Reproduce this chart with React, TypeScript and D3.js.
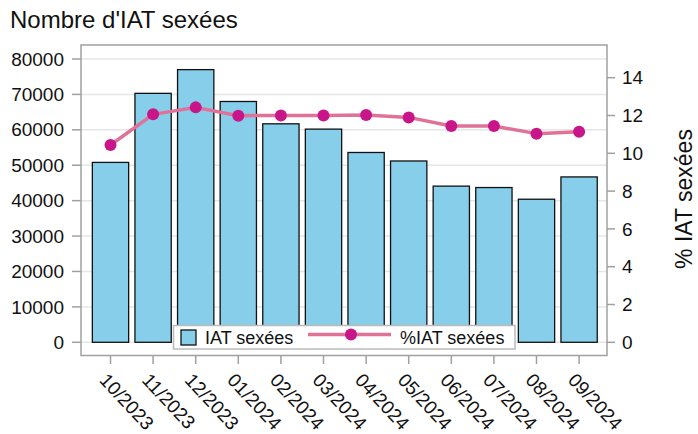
import React from "react";
import * as d3 from "d3";

const categories = ["10/2023","11/2023","12/2023","01/2024","02/2024","03/2024","04/2024","05/2024","06/2024","07/2024","08/2024","09/2024"];
const iatCounts = [50800,70300,77000,68000,61700,60200,53600,51200,44100,43700,40400,46700];
const iatPercent = [10.44,12.06,12.43,11.99,12.0,12.0,12.03,11.9,11.44,11.44,11.04,11.14];
const leftTicks = [0,10000,20000,30000,40000,50000,60000,70000,80000];
const rightTicks = [0,2,4,6,8,10,12,14];

const W = 698, H = 434;
const frame = { left: 81, right: 607, top: 45, bottom: 355.5 };
const FONT = "'Liberation Sans', Arial, sans-serif";

export default function App() {
  const x = d3.scaleBand<string>().domain(categories).range([89.2, 600.4]).paddingInner(0.148).paddingOuter(0.074);
  const yL = d3.scaleLinear().domain([0, 80000]).range([342.3, 59]);
  const yR = d3.scaleLinear().domain([0, 14]).range([342.3, 77.7]);
  const line = d3.line<number>().x((_, i) => x(categories[i])! + x.bandwidth() / 2).y(d => yR(d));
  const lineColor = "#E07298";
  const markColor = "#C8168A";

  return (
    <svg width={W} height={H} style={{ position: "absolute", left: 0, top: 0, background: "#fff" }} fontFamily={FONT}>
      <rect x={0} y={0} width={W} height={H} fill="#fff" />
      <text x={10} y={28} fontSize={24} fill="#111">Nombre d'IAT sexées</text>
      {/* gridlines */}
      {leftTicks.map(t => (
        <line key={"g" + t} x1={frame.left} x2={frame.right} y1={yL(t)} y2={yL(t)} stroke="#e6e6e6" strokeWidth={1.5} />
      ))}
      {/* bars */}
      {iatCounts.map((v, i) => (
        <rect key={"b" + i} x={x(categories[i])} y={yL(v)} width={x.bandwidth()} height={yL(0) - yL(v)}
          fill="#87CEEB" stroke="#111" strokeWidth={1.3} />
      ))}
      {/* line */}
      <path d={line(iatPercent)!} fill="none" stroke={lineColor} strokeWidth={3.5} strokeLinejoin="round" />
      {iatPercent.map((v, i) => (
        <circle key={"c" + i} cx={x(categories[i])! + x.bandwidth() / 2} cy={yR(v)} r={6} fill={markColor} />
      ))}
      {/* frame */}
      <rect x={frame.left} y={frame.top} width={frame.right - frame.left} height={frame.bottom - frame.top}
        fill="none" stroke="#a0a0a0" strokeWidth={1.5} />
      {/* left axis */}
      {leftTicks.map(t => (
        <g key={"l" + t}>
          <line x1={72} x2={frame.left} y1={yL(t)} y2={yL(t)} stroke="#a0a0a0" strokeWidth={1.5} />
          <text x={64} y={yL(t)} dy="0.35em" textAnchor="end" fontSize={19} fill="#111">{t}</text>
        </g>
      ))}
      {/* right axis */}
      {rightTicks.map(t => (
        <g key={"r" + t}>
          <line x1={frame.right} x2={615} y1={yR(t)} y2={yR(t)} stroke="#a0a0a0" strokeWidth={1.5} />
          <text x={622} y={yR(t)} dy="0.35em" textAnchor="start" fontSize={19} fill="#111">{t}</text>
        </g>
      ))}
      <text transform={`translate(692,199) rotate(-90)`} textAnchor="middle" fontSize={23} fill="#111">% IAT sexées</text>
      {/* x axis */}
      {categories.map(c => {
        const cx = x(c)! + x.bandwidth() / 2;
        return (
          <g key={"x" + c}>
            <line x1={cx} x2={cx} y1={frame.bottom} y2={364} stroke="#a0a0a0" strokeWidth={1.5} />
            <text transform={`translate(${cx - 12},${381}) rotate(47)`} textAnchor="start" fontSize={19} fill="#111">{c}</text>
          </g>
        );
      })}
      {/* legend */}
      <g>
        <rect x={173.5} y={325.5} width={341.5} height={23.5} fill="#fff" stroke="#bbb" strokeWidth={1.5} />
        <rect x={181} y={330} width={15} height={15} fill="#87CEEB" stroke="#111" strokeWidth={1.3} />
        <text x={205} y={343.5} fontSize={18} fill="#111">IAT sexées</text>
        <line x1={308} x2={391} y1={334.5} y2={334.5} stroke={lineColor} strokeWidth={3.5} />
        <circle cx={351} cy={334.5} r={6} fill={markColor} />
        <text x={400} y={343.5} fontSize={18} fill="#111">%IAT sexées</text>
      </g>
    </svg>
  );
}
